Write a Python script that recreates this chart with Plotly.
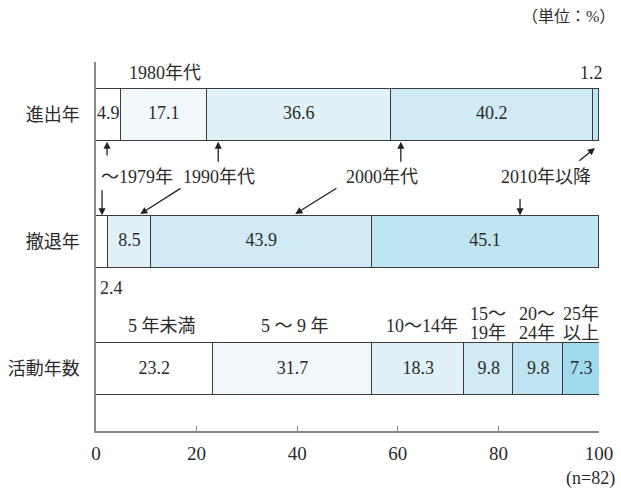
import plotly.graph_objects as go

# --- data -------------------------------------------------------------
rows = ["進出年", "撤退年", "活動年数"]

period_labels = ["～1979年", "1980年代", "1990年代", "2000年代", "2010年以降"]
entry_share = [4.9, 17.1, 36.6, 40.2, 1.2]      # 進出年
exit_share = [2.4, 0.0, 8.5, 43.9, 45.1]        # 撤退年

duration_labels = ["5 年未満", "5 ～ 9 年", "10～14年", "15～\n19年", "20～\n24年", "25年\n以上"]
duration_share = [23.2, 31.7, 18.3, 9.8, 9.8, 7.3]  # 活動年数

x_ticks = [0, 20, 40, 60, 80, 100]
n_label = "(n=82)"
unit_label = "（単位：%）"

# --- style ------------------------------------------------------------
FONT = "'Liberation Serif', 'Noto Sans CJK JP', serif"
INK = "#2b2b2b"
AXIS = "#8a8a8a"
EDGE = "#3c3c3c"
fills = ["#ffffff", "#f0f8fb", "#e0f1f8", "#d0ebf5", "#bfe5f2", "#9fdaee"]
BAR_W = 0.41

series = [entry_share, exit_share, duration_share]
n_seg = max(len(s) for s in series)

fig = go.Figure()

# stacked segments, one trace per segment position
for i in range(n_seg):
    xs = [s[i] if i < len(s) else None for s in series]
    fig.add_trace(go.Bar(
        x=xs, y=list(range(len(rows))), orientation="h", width=BAR_W,
        marker=dict(color=fills[i], line=dict(color=EDGE, width=1.3)),
        hoverinfo="skip", showlegend=False,
    ))

# value labels inside the wider segments
tx, ty, tt = [], [], []
for r, s in enumerate(series):
    left = 0.0
    for v in s:
        if v >= 4:
            tx.append(left + v / 2)
            ty.append(r)
            tt.append(f"{v:.1f}")
        left += v
fig.add_trace(go.Scatter(
    x=tx, y=ty, text=tt, mode="text",
    textfont=dict(family=FONT, size=18, color=INK),
    hoverinfo="skip", showlegend=False,
))

annotations = []


def note(text, x, y, size=18, xanchor="center"):
    annotations.append(dict(
        text=text, x=x, y=y, xref="x", yref="y",
        xanchor=xanchor, yanchor="middle", showarrow=False,
        font=dict(family=FONT, size=size, color=INK),
    ))


def arrow(x0, y0, x1, y1):
    annotations.append(dict(
        text="", x=x1, y=y1, ax=x0, ay=y0, xref="x", yref="y",
        axref="x", ayref="y", showarrow=True, arrowhead=2,
        arrowsize=1.1, arrowwidth=1.3, arrowcolor="#222",
        standoff=0, startstandoff=0,
    ))


# small values drawn outside their segments
note(f"{entry_share[4]:.1f}", 98.6, -0.33)
note(f"{exit_share[0]:.1f}", 0.4, 1.36, xanchor="left")

# period names
note(period_labels[1], 13.7, -0.33)
note(period_labels[0], 8.2, 0.49)
note(period_labels[2], 24.4, 0.49)
note(period_labels[3], 56.8, 0.49)
note(period_labels[4], 89.5, 0.49)

# arrows linking period names to segments
arrow(2.2, 0.33, 2.2, 0.21)
arrow(24.3, 0.38, 24.3, 0.21)
arrow(60.6, 0.38, 60.6, 0.21)
arrow(95.8, 0.37, 99.2, 0.26)
arrow(1.2, 0.58, 1.2, 0.79)
arrow(17.1, 0.57, 8.8, 0.78)
arrow(48.1, 0.57, 39.6, 0.78)
arrow(84.3, 0.65, 84.3, 0.79)

# duration names (one or two lines)
dur_x = [13.2, 39.6, 64.8, 78.0, 87.6, 96.5]
for lab, xc in zip(duration_labels, dur_x):
    parts = lab.split("\n")
    if len(parts) == 1:
        note(parts[0], xc, 1.66)
    else:
        note(parts[0], xc, 1.565)
        note(parts[1], xc, 1.715)

# unit and sample size, placed relative to the plot area
annotations.append(dict(
    text=unit_label, x=1.036, y=1.122, xref="paper", yref="paper",
    xanchor="right", yanchor="middle", showarrow=False,
    font=dict(family=FONT, size=16, color=INK),
))
annotations.append(dict(
    text=n_label, x=1.036, y=-0.13, xref="paper", yref="paper",
    xanchor="right", yanchor="middle", showarrow=False,
    font=dict(family=FONT, size=18, color=INK),
))

fig.update_layout(
    width=621, height=489,
    margin=dict(l=96, r=22, t=62, b=58),
    paper_bgcolor="white", plot_bgcolor="white",
    barmode="stack", bargap=0,
    font=dict(family=FONT, size=18, color=INK),
    annotations=annotations,
    xaxis=dict(
        range=[0, 100], tickvals=x_ticks, ticktext=[str(t) for t in x_ticks],
        showgrid=False, zeroline=False, showline=True, linecolor=AXIS,
        linewidth=1.5, ticks="inside", ticklen=5, tickcolor=AXIS,
        tickwidth=1.2, ticklabelstandoff=4, automargin=False,
        tickfont=dict(family=FONT, size=19, color=INK),
    ),
    yaxis=dict(
        range=[2.488, -0.417], tickvals=list(range(len(rows))), ticktext=rows,
        showgrid=False, zeroline=False, showline=True, linecolor=AXIS,
        linewidth=1.5, ticks="", ticklabelstandoff=11, automargin=False,
        tickfont=dict(family=FONT, size=18, color=INK),
    ),
)

fig.write_html("out.html")
